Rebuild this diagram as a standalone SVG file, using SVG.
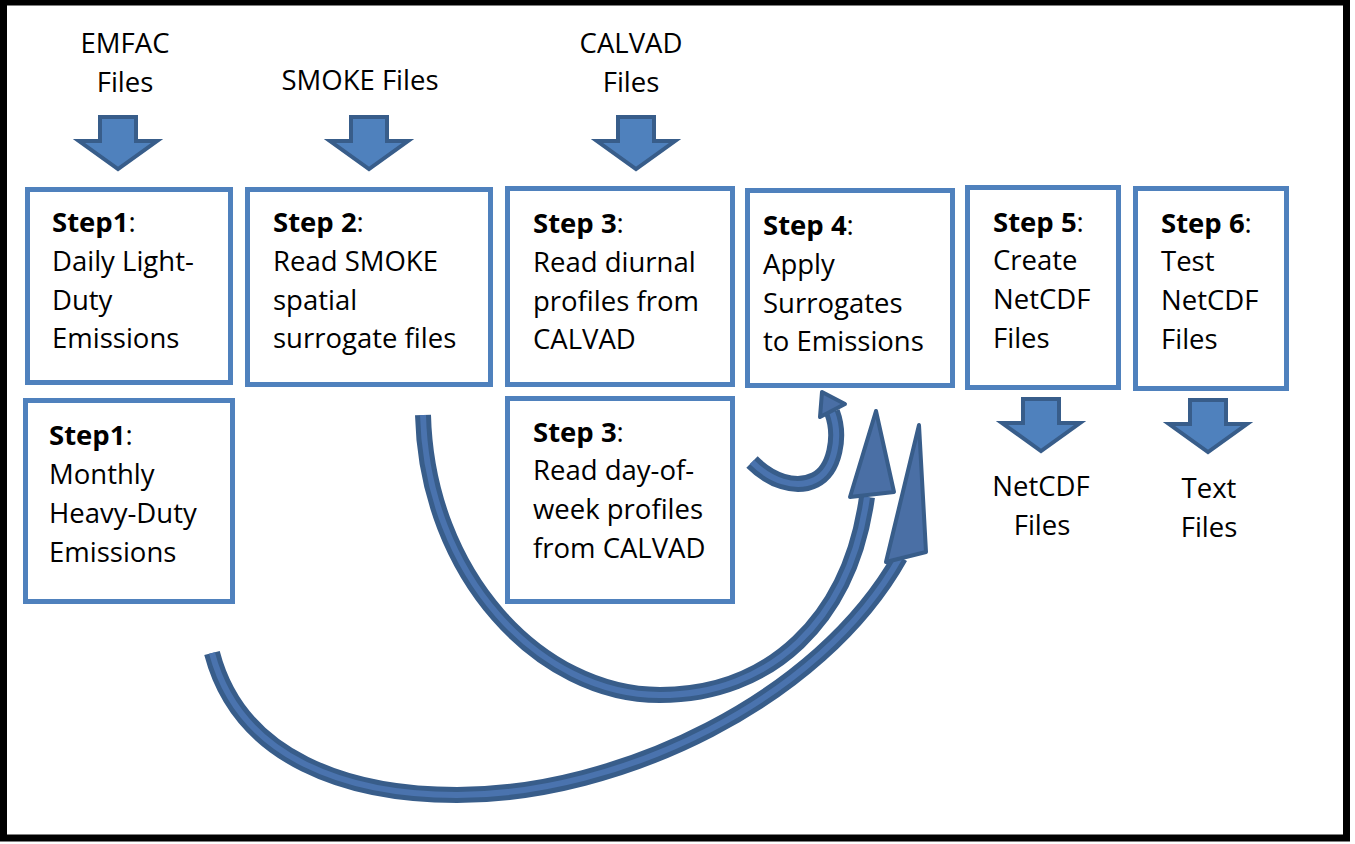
<svg xmlns="http://www.w3.org/2000/svg" width="1355" height="844" viewBox="0 0 1355 844">
<style>
.box{fill:#fff;stroke:#4F81BD;stroke-width:5}
.t{font-family:"Open Sans","Liberation Sans",sans-serif;font-size:27.5px;fill:#000}
.b{font-weight:bold}
.mid{text-anchor:middle}
.blk{fill:#4F81BD;stroke:#385D8A;stroke-width:4;stroke-linejoin:miter}
.band{fill:none;stroke:#385D8A;stroke-width:16}
.band2{fill:none;stroke:#4A73AE;stroke-width:6}
.head{fill:#4A6FA5;stroke:#385D8A;stroke-width:4;stroke-linejoin:round}
</style>
<defs>
<path id="dn" d="M-18,2 H18 V26 H39 L0,54 L-39,26 H-18 Z"/>
</defs>
<rect x="0" y="0" width="1355" height="844" fill="#fff"/>
<rect x="3.5" y="2" width="1343" height="836" fill="none" stroke="#000" stroke-width="7"/>

<g id="in-emfac">
<text class="t mid" x="125" y="53">EMFAC</text>
<text class="t mid" x="125" y="92">Files</text>
<use href="#dn" class="blk" transform="translate(118,115)"/>
</g>
<g id="in-smoke">
<text class="t mid" x="360" y="90">SMOKE Files</text>
<use href="#dn" class="blk" transform="translate(369,115)"/>
</g>
<g id="in-calvad">
<text class="t mid" x="631" y="53">CALVAD</text>
<text class="t mid" x="631" y="92">Files</text>
<use href="#dn" class="blk" transform="translate(636,115)"/>
</g>

<g id="step1a">
<rect class="box" x="27.5" y="189.5" width="203" height="193"/>
<text class="t"><tspan x="52" y="232"><tspan class="b">Step1</tspan>:</tspan><tspan x="52" y="271">Daily Light-</tspan><tspan x="52" y="310">Duty</tspan><tspan x="52" y="348">Emissions</tspan></text>
</g>
<g id="step1b">
<rect class="box" x="25.5" y="400.5" width="207" height="201"/>
<text class="t"><tspan x="49" y="445"><tspan class="b">Step1</tspan>:</tspan><tspan x="49" y="484">Monthly</tspan><tspan x="49" y="523">Heavy-Duty</tspan><tspan x="49" y="562">Emissions</tspan></text>
</g>
<g id="step2">
<rect class="box" x="247.5" y="189.5" width="243" height="195"/>
<text class="t"><tspan x="273" y="232"><tspan class="b">Step 2</tspan>:</tspan><tspan x="273" y="271">Read SMOKE</tspan><tspan x="273" y="310">spatial</tspan><tspan x="273" y="348">surrogate files</tspan></text>
</g>
<g id="step3a">
<rect class="box" x="507.5" y="188.5" width="225" height="196"/>
<text class="t"><tspan x="533" y="233"><tspan class="b">Step 3</tspan>:</tspan><tspan x="533" y="272">Read diurnal</tspan><tspan x="533" y="311">profiles from</tspan><tspan x="533" y="349">CALVAD</tspan></text>
</g>
<g id="step3b">
<rect class="box" x="507.5" y="398.5" width="225" height="203"/>
<text class="t"><tspan x="533" y="442"><tspan class="b">Step 3</tspan>:</tspan><tspan x="533" y="480">Read day-of-</tspan><tspan x="533" y="519">week profiles</tspan><tspan x="533" y="558">from CALVAD</tspan></text>
</g>
<g id="step4">
<rect class="box" x="747.5" y="190.5" width="205" height="195"/>
<text class="t"><tspan x="763" y="235"><tspan class="b">Step 4</tspan>:</tspan><tspan x="763" y="274">Apply</tspan><tspan x="763" y="313">Surrogates</tspan><tspan x="763" y="351">to Emissions</tspan></text>
</g>
<g id="step5">
<rect class="box" x="967.5" y="187.5" width="151" height="200"/>
<text class="t"><tspan x="993" y="232"><tspan class="b">Step 5</tspan>:</tspan><tspan x="993" y="270">Create</tspan><tspan x="993" y="309">NetCDF</tspan><tspan x="993" y="348">Files</tspan></text>
</g>
<g id="step6">
<rect class="box" x="1135.5" y="188.5" width="151" height="200"/>
<text class="t"><tspan x="1161" y="233"><tspan class="b">Step 6</tspan>:</tspan><tspan x="1161" y="271">Test</tspan><tspan x="1161" y="310">NetCDF</tspan><tspan x="1161" y="349">Files</tspan></text>
</g>

<g id="out-netcdf">
<use href="#dn" class="blk" transform="translate(1041,397)"/>
<text class="t mid" x="1041" y="496">NetCDF</text>
<text class="t mid" x="1042" y="535">Files</text>
</g>
<g id="out-text">
<use href="#dn" class="blk" transform="translate(1208,398)"/>
<text class="t mid" x="1209" y="498">Text</text>
<text class="t mid" x="1209" y="537">Files</text>
</g>

<g id="connectors">
<path class="band" d="M423,415 C427,575 540,695 660,695 C770,695 850,620 867,497"/>
<path class="band2" d="M423,415 C427,575 540,695 660,695 C770,695 850,620 867,497"/>
<polygon class="head" points="876,411 894,492 850,497"/>
<path class="band" d="M212,653 C240,760 350,795 457,795 C620,795 820,700 900,557"/>
<path class="band2" d="M212,653 C240,760 350,795 457,795 C620,795 820,700 900,557"/>
<polygon class="head" points="919,425 926,552 886,562"/>
<path class="band" d="M752,462 C770,480 795,490 815,480 C835,470 841,436 832,412"/>
<path class="band2" d="M752,462 C770,480 795,490 815,480 C835,470 841,436 832,412"/>
<polygon class="head" points="822,392 845,404 820,417"/>
</g>
</svg>
